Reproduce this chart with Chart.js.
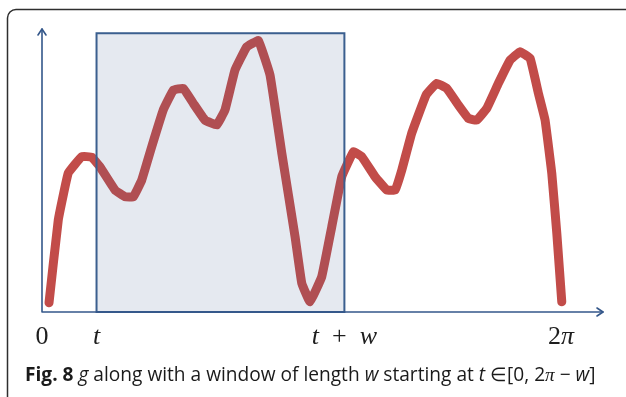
<!DOCTYPE html>
<html>
<head>
<meta charset="utf-8">
<script src="https://cdn.jsdelivr.net/npm/chart.js@4/dist/chart.umd.min.js"></script>
<style>
  html, body { margin: 0; padding: 0; background: #fff; overflow: hidden; }
  canvas { display: block; }
</style>
</head>
<body>
<canvas id="c" width="626" height="397"></canvas>
<script>
// Sample positions of g on [0, 2π]
const xs = [0.085, 0.197, 0.318, 0.481, 0.602, 0.702, 0.884, 1.005, 1.105, 1.207,
            1.328, 1.468, 1.590, 1.711, 1.832, 1.973, 2.115, 2.215, 2.336, 2.478,
            2.619, 2.760, 2.902, 3.063, 3.144, 3.244, 3.386, 3.507, 3.628, 3.769,
            3.870, 4.031, 4.173, 4.273, 4.355, 4.476, 4.649, 4.778, 4.899, 5.040,
            5.161, 5.263, 5.384, 5.524, 5.666, 5.787, 5.908, 6.008, 6.089, 6.170,
            6.231, 6.291];
// Values of g at those positions
const gs = [0.33, 3.25, 4.91, 5.49, 5.47, 5.13, 4.31, 4.07, 4.07, 4.66,
            5.84, 7.14, 7.84, 7.90, 7.37, 6.78, 6.61, 7.14, 8.55, 9.37,
            9.59, 8.37, 5.62, 2.66, 1.02, 0.36, 1.25, 3.01, 4.78, 5.66,
            5.49, 4.78, 4.31, 4.31, 5.02, 6.33, 7.67, 8.08, 7.90, 7.31,
            6.84, 6.78, 7.20, 8.08, 8.90, 9.20, 8.96, 7.73, 6.78, 4.90,
            2.78, 0.36];

// The window [t, t + w]
const windowStart = 0.66;
const windowLength = 3.0;
const windowHeight = 9.85;

// Axis extents and tick labels
const xAxisMax = 6.79;
const yAxisMax = 10;
const tickValues = [0, windowStart, windowStart + windowLength, 2 * Math.PI];
const tickLabels = ['0', 't', 't + w', '2π'];

const caption = [
  { text: 'Fig. 8', style: 'bold' },
  { text: ' ', style: '' },
  { text: 'g', style: 'italic' },
  { text: ' along with a window of length ', style: '' },
  { text: 'w', style: 'italic' },
  { text: ' starting at ', style: '' },
  { text: 't', style: 'italic' },
  { text: ' \u2208[0, 2', style: '' },
  { text: '\u03c0', style: 'italic', serif: true },
  { text: ' \u2212 ', style: '' },
  { text: 'w', style: 'italic' },
  { text: ']', style: '' }
];

const SANS = '"Open Sans", "Noto Sans", sans-serif';
const SERIF = '"Liberation Serif", "DejaVu Serif", serif';

function labelSegments(label) {
  // math-style: letters italic, operators upright with wider spacing
  const segs = [];
  for (const ch of label) {
    if (ch === ' ') segs.push({ text: '\u2002', italic: false });
    else segs.push({ text: ch, italic: /[a-z\u03c0]/.test(ch) });
  }
  return segs;
}

function drawArrowHead(ctx, x, y, dir) {
  const L = 6, H = 4;
  ctx.beginPath();
  if (dir === 'up') {
    ctx.moveTo(x - H, y + L); ctx.lineTo(x, y); ctx.lineTo(x + H, y + L);
  } else {
    ctx.moveTo(x - L, y - H); ctx.lineTo(x, y); ctx.lineTo(x - L, y + H);
  }
  ctx.stroke();
}

const figurePlugin = {
  id: 'figure',
  beforeDraw(chart) {
    const ctx = chart.ctx;
    ctx.save();
    ctx.strokeStyle = '#2e2e2e';
    ctx.lineWidth = 1.5;
    ctx.beginPath();
    ctx.moveTo(chart.width + 2, 9.5);
    ctx.lineTo(16, 9.5);
    ctx.arcTo(7.5, 9.5, 7.5, 18, 8.5);
    ctx.lineTo(7.5, chart.height + 2);
    ctx.stroke();
    ctx.restore();
  },
  afterDatasetsDraw(chart) {
    const { ctx, scales: { x, y } } = chart;
    ctx.save();

    // window rectangle over the curve
    const x0 = x.getPixelForValue(windowStart);
    const x1 = x.getPixelForValue(windowStart + windowLength);
    const yT = y.getPixelForValue(windowHeight);
    const yB = y.getPixelForValue(0);
    ctx.fillStyle = 'rgba(70, 100, 150, 0.14)';
    ctx.fillRect(x0, yT, x1 - x0, yB - yT);
    ctx.strokeStyle = '#3b5f8f';
    ctx.lineWidth = 2;
    ctx.strokeRect(x0, yT, x1 - x0, yB - yT);

    // axes with arrow heads
    const ox = x.getPixelForValue(0), oy = y.getPixelForValue(0);
    const xe = x.getPixelForValue(xAxisMax), ye = y.getPixelForValue(yAxisMax);
    ctx.strokeStyle = '#34578a';
    ctx.lineWidth = 1.6;
    ctx.lineCap = 'round';
    ctx.lineJoin = 'round';
    ctx.beginPath();
    ctx.moveTo(ox, oy); ctx.lineTo(ox, ye);
    ctx.moveTo(ox, oy); ctx.lineTo(xe, oy);
    ctx.stroke();
    drawArrowHead(ctx, ox, ye, 'up');
    drawArrowHead(ctx, xe, oy, 'right');

    // tick labels
    ctx.fillStyle = '#1e1e1e';
    ctx.textBaseline = 'alphabetic';
    ctx.textAlign = 'left';
    const size = 26;
    tickValues.forEach((v, i) => {
      const segs = labelSegments(tickLabels[i]);
      let w = 0;
      segs.forEach(s => {
        ctx.font = (s.italic ? 'italic ' : '') + size + 'px ' + SERIF;
        s.w = ctx.measureText(s.text).width;
        w += s.w;
      });
      let cx = x.getPixelForValue(v) - w / 2;
      segs.forEach(s => {
        ctx.font = (s.italic ? 'italic ' : '') + size + 'px ' + SERIF;
        ctx.fillText(s.text, cx, 344);
        cx += s.w;
      });
    });

    // caption, fitted to its line
    const base = 20;
    const fontFor = (s, sz) => (s.style ? s.style + ' ' : '') + sz + 'px ' + (s.serif ? SERIF : SANS);
    let total = 0;
    caption.forEach(s => { ctx.font = fontFor(s, base); total += ctx.measureText(s.text).width; });
    const sz = base * 570 / total;
    let cx = 25;
    ctx.fillStyle = '#1a1a1a';
    caption.forEach(s => {
      ctx.font = fontFor(s, sz);
      ctx.fillText(s.text, cx, 381);
      cx += ctx.measureText(s.text).width;
    });

    ctx.restore();
  }
};

new Chart(document.getElementById('c'), {
  type: 'line',
  data: {
    datasets: [{
      label: 'g',
      data: xs.map((v, i) => ({ x: v, y: gs[i] })),
      borderColor: '#c24c49',
      borderWidth: 9,
      borderCapStyle: 'round',
      borderJoinStyle: 'round',
      tension: 0.08,
      pointRadius: 0,
      fill: false,
      clip: false
    }]
  },
  options: {
    responsive: false,
    animation: false,
    devicePixelRatio: 1,
    layout: { padding: { left: 42, top: 29, right: 23, bottom: 85 } },
    plugins: { legend: { display: false }, tooltip: { enabled: false } },
    scales: {
      x: { type: 'linear', min: 0, max: xAxisMax, display: false },
      y: { type: 'linear', min: 0, max: yAxisMax, display: false }
    }
  },
  plugins: [figurePlugin]
});
</script>
</body>
</html>
